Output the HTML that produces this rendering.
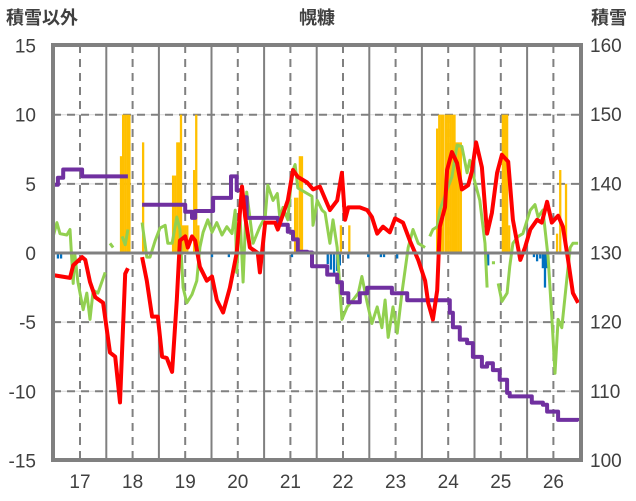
<!DOCTYPE html>
<html><head><meta charset="utf-8"><style>
html,body{margin:0;padding:0;background:#fff;}
svg{display:block;font-family:"Liberation Sans","Noto Sans CJK JP",sans-serif;}
</style></head><body>
<svg id="chart" width="636" height="501" viewBox="0 0 636 501">
<g id="grid"></g>
<g id="bars"></g>
<g id="lines"></g>
<g id="axes"></g>
<text x="42" y="24" font-size="18" font-weight="bold" fill="#404040" text-anchor="middle">積雪以外</text>
<text x="317" y="24" font-size="18" font-weight="bold" fill="#404040" text-anchor="middle">幌糠</text>
<text x="609" y="24" font-size="18" font-weight="bold" fill="#404040" text-anchor="middle">積雪</text>
</svg>
<script>
const xTicks=[17,18,19,20,21,22,23,24,25,26];
const leftTicks=[15,10,5,0,-5,-10,-15];
const rightTicks=[160,150,140,130,120,110,100];
const redT=[16.49,16.81,16.87,17.04,17.10,17.19,17.29,17.44,17.57,17.67,17.76,17.86,17.91,18.0,18.18,18.27,18.37,18.48,18.56,18.65,18.75,18.84,18.90,19.00,19.05,19.13,19.19,19.28,19.41,19.51,19.60,19.72,19.85,19.98,20.08,20.14,20.23,20.38,20.42,20.52,20.71,20.76,20.95,21.05,21.14,21.32,21.43,21.56,21.75,21.89,21.98,22.04,22.10,22.32,22.46,22.55,22.65,22.76,22.89,22.99,23.14,23.27,23.43,23.56,23.62,23.71,23.79,23.84,23.94,23.98,24.07,24.17,24.26,24.38,24.45,24.53,24.64,24.74,24.83,24.93,25.02,25.14,25.23,25.37,25.46,25.56,25.69,25.78,25.88,25.97,26.09,26.18,26.28,26.37,26.47];
const redV=[-1.6,-1.8,-0.9,-0.3,-0.5,-2.1,-3.2,-3.6,-7.2,-7.5,-10.8,-1.5,-1.1,null,-0.3,-2.0,-4.6,-4.6,-7.5,-7.6,-8.6,-3.4,0.9,1.2,0.4,1.2,0.9,-1.0,-2.0,-1.7,-3.4,-4.3,-2.5,0,4.8,2.6,0.4,0,-1.4,2.2,2.2,1.7,3.8,6.0,5.5,5.1,4.6,4.8,3.1,3.8,5.8,2.4,3.3,3.3,3.1,2.6,1.4,1.9,1.5,2.5,2.2,0.9,-0.5,-2.0,-3.6,-4.8,-2.7,1.9,3.3,6.0,7.3,6.5,4.6,4.9,5.9,8.0,6.2,1.4,2.9,5.8,7.1,6.6,2.4,-0.5,0.4,1.7,2.4,2.2,3.7,2.2,2.7,1.9,-0.5,-2.9,-3.6];
const greenT=[16.49,16.56,16.62,16.75,16.81,16.87,16.90,16.96,17.06,17.13,17.19,17.25,17.34,17.48,17.52,17.57,17.63,17.70,17.80,17.86,17.91,18.0,18.18,18.27,18.33,18.43,18.52,18.62,18.67,18.75,18.84,18.90,18.96,19.03,19.13,19.22,19.28,19.34,19.43,19.51,19.60,19.70,19.79,19.89,19.95,19.98,20.04,20.10,20.17,20.29,20.42,20.52,20.57,20.67,20.75,20.80,20.86,20.95,21.03,21.09,21.14,21.41,21.43,21.51,21.60,21.66,21.75,21.81,21.89,21.98,22.08,22.19,22.29,22.36,22.46,22.55,22.65,22.74,22.80,22.86,22.95,23.03,23.12,23.24,23.33,23.43,23.56,23.60,23.65,23.71,23.79,23.84,23.98,24.07,24.17,24.26,24.36,24.41,24.51,24.60,24.70,24.74,24.78,24.83,24.89,24.92,24.95,25.02,25.12,25.17,25.23,25.33,25.42,25.56,25.65,25.71,25.80,25.90,25.97,26.03,26.09,26.16,26.26,26.32,26.37,26.47];
const greenV=[1.2,2.2,1.4,1.3,1.7,-2.2,0,-2.1,-4.1,-2.9,-4.8,-2.7,-2.9,-1.4,null,0.7,0.4,null,1.2,0.6,1.7,null,2.2,-0.3,-0.3,0.9,1.8,2.0,0.7,0.7,2.6,1.7,-2.5,-3.6,-3.0,-2.0,0.4,1.5,2.4,1.5,2.2,1.3,1.9,1.4,3.1,-1.4,2.9,-2.1,4.4,0.7,1.9,2.6,4.9,3.8,4.3,2.5,3.3,2.4,5.8,6.4,4.7,4.1,2.0,3.8,3.1,2.9,0.7,2.4,0.4,-4.8,-3.9,-3.4,-2.9,-1.7,-3.6,-5.1,-3.9,-5.4,-3.4,-6.1,-3.9,-5.8,-2.9,0.4,1.7,0.7,0.4,null,1.2,1.7,1.9,3.1,4.6,5.5,7.8,7.7,5.8,6.7,5.1,3.8,0.7,-2.5,null,-0.7,-0.7,null,-2.2,-3.5,-2.9,-1.0,0.7,1.2,1.4,3.1,3.5,2.6,3.1,-0.3,-4.6,-8.7,-4.8,-5.4,-1.7,0.4,0.7,0.7];
const snowT=[16.49,16.58,16.68,17.0,17.04,17.91,18.0,18.18,18.90,19.0,19.13,19.19,19.38,19.53,19.79,19.87,19.98,20.08,20.17,20.67,20.76,20.90,20.95,21.05,21.14,21.32,21.41,21.62,21.70,21.89,21.98,22.10,22.23,22.32,22.46,22.86,22.93,23.14,23.22,23.37,23.98,24.03,24.09,24.22,24.36,24.47,24.64,24.74,24.85,24.98,25.12,25.17,25.52,25.59,25.80,25.88,26.03,26.09,26.47];
const snowV=[139.8,140.8,142,142,141,141,null,136.9,136.9,135.9,135,136,136,137.9,137.9,141,139,138,135,135,134,134,133,131.9,130.1,130,128,128,126.8,125.7,124.1,122.8,122.8,124.1,124.9,124.9,124.1,124.1,123.1,123.1,123.1,121.3,119.2,117.4,116.9,114.9,113.5,114,113,111.6,109.7,109.2,109.2,108.3,108,107,107,105.8,105.6];
const snowfallT=[17.78,17.82,17.86,17.90,17.94,18.20,18.77,18.81,18.85,18.88,18.92,18.96,19.00,19.04,19.17,19.21,19.25,21.09,21.13,21.18,21.22,21.96,22.12,23.79,23.83,23.87,23.91,23.96,24.00,24.04,24.08,24.12,24.16,24.20,24.24,25.04,25.08,25.12,25.16,26.07,26.13,26.24];
const snowfallV=[7,10,10,10,10,8,5.6,5.6,8,8,10,2,2,2,6,10,2,4,4,7,7,2,2,9,10,10,10,10,10,10,10,10,8,8,8,10,10,10,2,1.4,6,5];
const meltT=[16.58,16.64,19.51,19.83,21.03,21.71,21.77,21.83,21.89,21.94,22.10,22.48,22.72,22.78,23.03,24.76,25.63,25.69,25.75,25.80,25.84,25.88];
const meltV=[-0.4,-0.4,-0.3,-0.3,-0.3,-0.8,-1.2,-1.5,-1.3,-0.9,-0.4,-0.3,-0.3,-0.3,-0.4,-0.9,-0.3,-0.6,-0.4,-1.1,-2.5,-1.1];

const NS='http://www.w3.org/2000/svg';
const L=53,R=581,T=45,B=460;
const xs=t=>80+(t-17)*52.6;
const yl=v=>253-v*13.83;
const yr=r=>B-(r-100)*((B-T)/60);
function mk(tag,attrs,parent){const e=document.createElementNS(NS,tag);for(const k in attrs)e.setAttribute(k,attrs[k]);parent.appendChild(e);return e;}
const grid=document.getElementById('grid'),bars=document.getElementById('bars'),lines=document.getElementById('lines'),axes=document.getElementById('axes');

leftTicks.forEach(v=>{
  if(v===15||v===-15||v===0)return;
  const y=yl(v);
  const g1=mk('line',{x1:L,x2:R,y1:y,y2:y,stroke:'#d9d9d9','stroke-width':1},grid);
  
  
  const g2=mk('line',{x1:L,x2:R,y1:y,y2:y,stroke:'#808080','stroke-width':2,'stroke-dasharray':'8,6'},grid);
  
  
});
xTicks.forEach(t=>{
  const x=xs(t);
  const d=mk('line',{x1:x,x2:x,y1:T,y2:B,stroke:'#808080','stroke-width':2,'stroke-dasharray':'8,6'},grid);
  
  
  if(t<26){
    const s=mk('line',{x1:xs(t+0.5),x2:xs(t+0.5),y1:T,y2:B,stroke:'#808080','stroke-width':2},grid);
    
    
  }
});

const bw=2.3;
snowfallT.forEach((t,i)=>{
  const v=snowfallV[i];
  const r=mk('rect',{x:xs(t)-bw/2,y:yl(v),width:bw,height:yl(0)-yl(v),fill:'#FFC000'},bars);
  
  
});
meltT.forEach((t,i)=>{
  const v=meltV[i];
  const r=mk('rect',{x:xs(t)-bw/2,y:yl(0),width:bw,height:yl(v)-yl(0),fill:'#0070C0'},bars);
  
  
});

const zl=mk('line',{x1:L,x2:R,y1:yl(0),y2:yl(0),stroke:'#808080','stroke-width':3},axes);



function pathFrom(ts,vs,yf){let d='',pen=false;ts.forEach((t,i)=>{const v=vs[i];if(v===null){pen=false;return;}d+=(pen?'L':'M')+xs(t).toFixed(1)+','+yf(v).toFixed(1);pen=true;});return d;}
function stepFrom(ts,vs,yf){let d='',pen=false,py=0;ts.forEach((t,i)=>{const v=vs[i];if(v===null){pen=false;return;}const x=xs(t).toFixed(1),y=yf(v).toFixed(1);if(pen){d+='L'+x+','+py+'L'+x+','+y;}else{d+='M'+x+','+y;}py=y;pen=true;});return d;}
const gp=mk('path',{d:pathFrom(greenT,greenV,yl),fill:'none',stroke:'#92D050','stroke-width':3,'stroke-linejoin':'round'},lines);


const pp=mk('path',{d:stepFrom(snowT,snowV,yr),fill:'none',stroke:'#7030A0','stroke-width':4,'stroke-linejoin':'round'},lines);


const rp=mk('path',{d:pathFrom(redT,redV,yl),fill:'none',stroke:'#FF0000','stroke-width':4,'stroke-linejoin':'round'},lines);



const frame=mk('rect',{x:L,y:T,width:R-L,height:B-T,fill:'none',stroke:'#808080','stroke-width':4},axes);



leftTicks.forEach(v=>{
  const tx=mk('text',{x:36,y:yl(v)+7,'font-size':19,fill:'#404040','text-anchor':'end'},axes);
  tx.textContent=v;
  
  
});
rightTicks.forEach(r=>{
  const tx=mk('text',{x:590,y:yr(r)+7,'font-size':19,fill:'#404040','text-anchor':'start'},axes);
  tx.textContent=r;
  
  
});
xTicks.forEach(t=>{
  const tx=mk('text',{x:xs(t),y:488,'font-size':19,fill:'#404040','text-anchor':'middle'},axes);
  tx.textContent=t;
  
  
});
</script>
</body></html>
